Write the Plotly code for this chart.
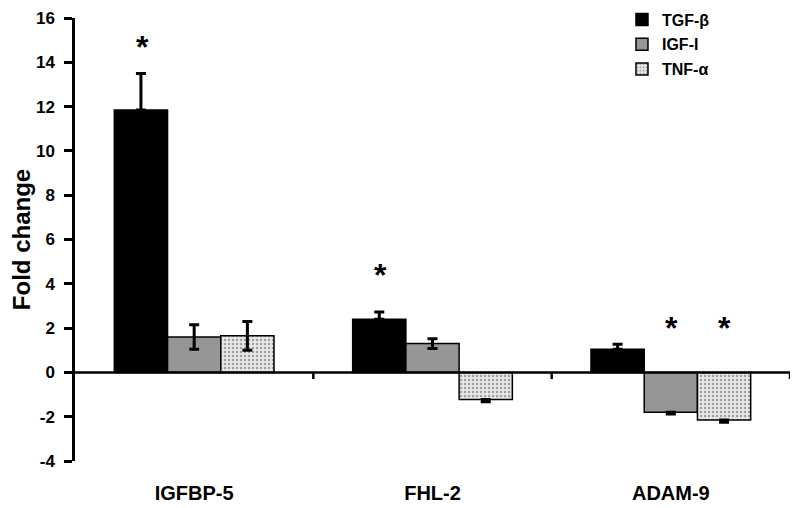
import plotly.graph_objects as go

categories = ["IGFBP-5", "FHL-2", "ADAM-9"]
series_names = ["TGF-β", "IGF-I", "TNF-α"]
tgf = [11.85, 2.4, 1.05]
igf = [1.6, 1.3, -1.8]
tnf = [1.65, -1.22, -2.15]
tgf_err_up = [1.65, 0.33, 0.22]
tgf_err_dn = [0, 0, 0]
igf_err_up = [0.55, 0.22, 0.0]
igf_err_dn = [0.55, 0.22, 0.08]
tnf_err_up = [0.65, 0.0, 0.0]
tnf_err_dn = [0.65, 0.1, 0.1]
star_y = [[14.7, 4.4, None], [None, None, 2.0], [None, None, 2.0]]
y_ticks = [-4, -2, 0, 2, 4, 6, 8, 10, 12, 14, 16]
y_tick_labels = ["-4", "-2", "0", "2", "4", "6", "8", "10", "12", "14", "16"]

fill = ["#000000", "#969696", "#e4e4e4"]
vals = [tgf, igf, tnf]
eu = [tgf_err_up, igf_err_up, tnf_err_up]
ed = [tgf_err_dn, igf_err_dn, tnf_err_dn]

fig = go.Figure()
for i in range(3):
    marker = dict(color=fill[i], line=dict(color="black", width=1.5))
    if i == 2:
        marker["pattern"] = dict(shape=".", fgcolor="#555555", bgcolor="#e8e8e8", size=4, solidity=0.3)
    fig.add_trace(go.Bar(
        x=categories, y=vals[i], name=series_names[i], marker=marker, legendgroup=str(i),
        error_y=dict(type="data", array=eu[i], arrayminus=ed[i], symmetric=False,
                     color="black", thickness=3, width=5),
    ))

BW = 53
for i in range(3):
    for j, c in enumerate(categories):
        if star_y[i][j] is not None:
            fig.add_annotation(x=c, y=star_y[i][j], text="<b>*</b>", showarrow=False,
                               xshift=(i - 1) * BW + 1, yanchor="middle",
                               font=dict(size=32, color="black", family="Arial"))

# zero line and category separators
fig.add_shape(type="line", xref="x", yref="y", x0=-0.5, x1=2.5, y0=0, y1=0,
              line=dict(color="black", width=2.5))
for k in range(3):
    fig.add_shape(type="line", xref="x", yref="y", x0=k + 0.5, x1=k + 0.5, y0=0, y1=-0.3,
                  line=dict(color="black", width=2.5))

fig.update_layout(
    width=792, height=500,
    margin=dict(l=67, r=10, t=10, b=47, autoexpand=False),
    plot_bgcolor="white", paper_bgcolor="white",
    barmode="group", bargap=0.33, bargroupgap=0,
    font=dict(family="Arial, Liberation Sans", color="black"),
    showlegend=True,
    legend=dict(x=0.765, y=1.035, xanchor="left", yanchor="top",
                font=dict(size=16, family="Arial, Liberation Sans", weight="bold"),
                bgcolor="rgba(0,0,0,0)", itemwidth=30, tracegroupgap=1),
    xaxis=dict(showline=False, ticks="", showgrid=False, zeroline=False, automargin=False,
               range=[-0.5, 2.5], ticklabelstandoff=18,
               tickfont=dict(size=20, weight="bold")),
    yaxis=dict(range=[-4, 16], tickvals=y_ticks, ticktext=y_tick_labels,
               showline=True, linecolor="black", linewidth=2.5,
               ticks="outside", ticklen=8, tickwidth=2.5, tickcolor="black", automargin=False,
               showgrid=False, zeroline=False, ticklabelstandoff=6,
               tickfont=dict(size=17, weight="bold"),
               title=dict(text="Fold change", font=dict(size=24, weight="bold"), standoff=6)),
)

fig.write_html("out.html")
